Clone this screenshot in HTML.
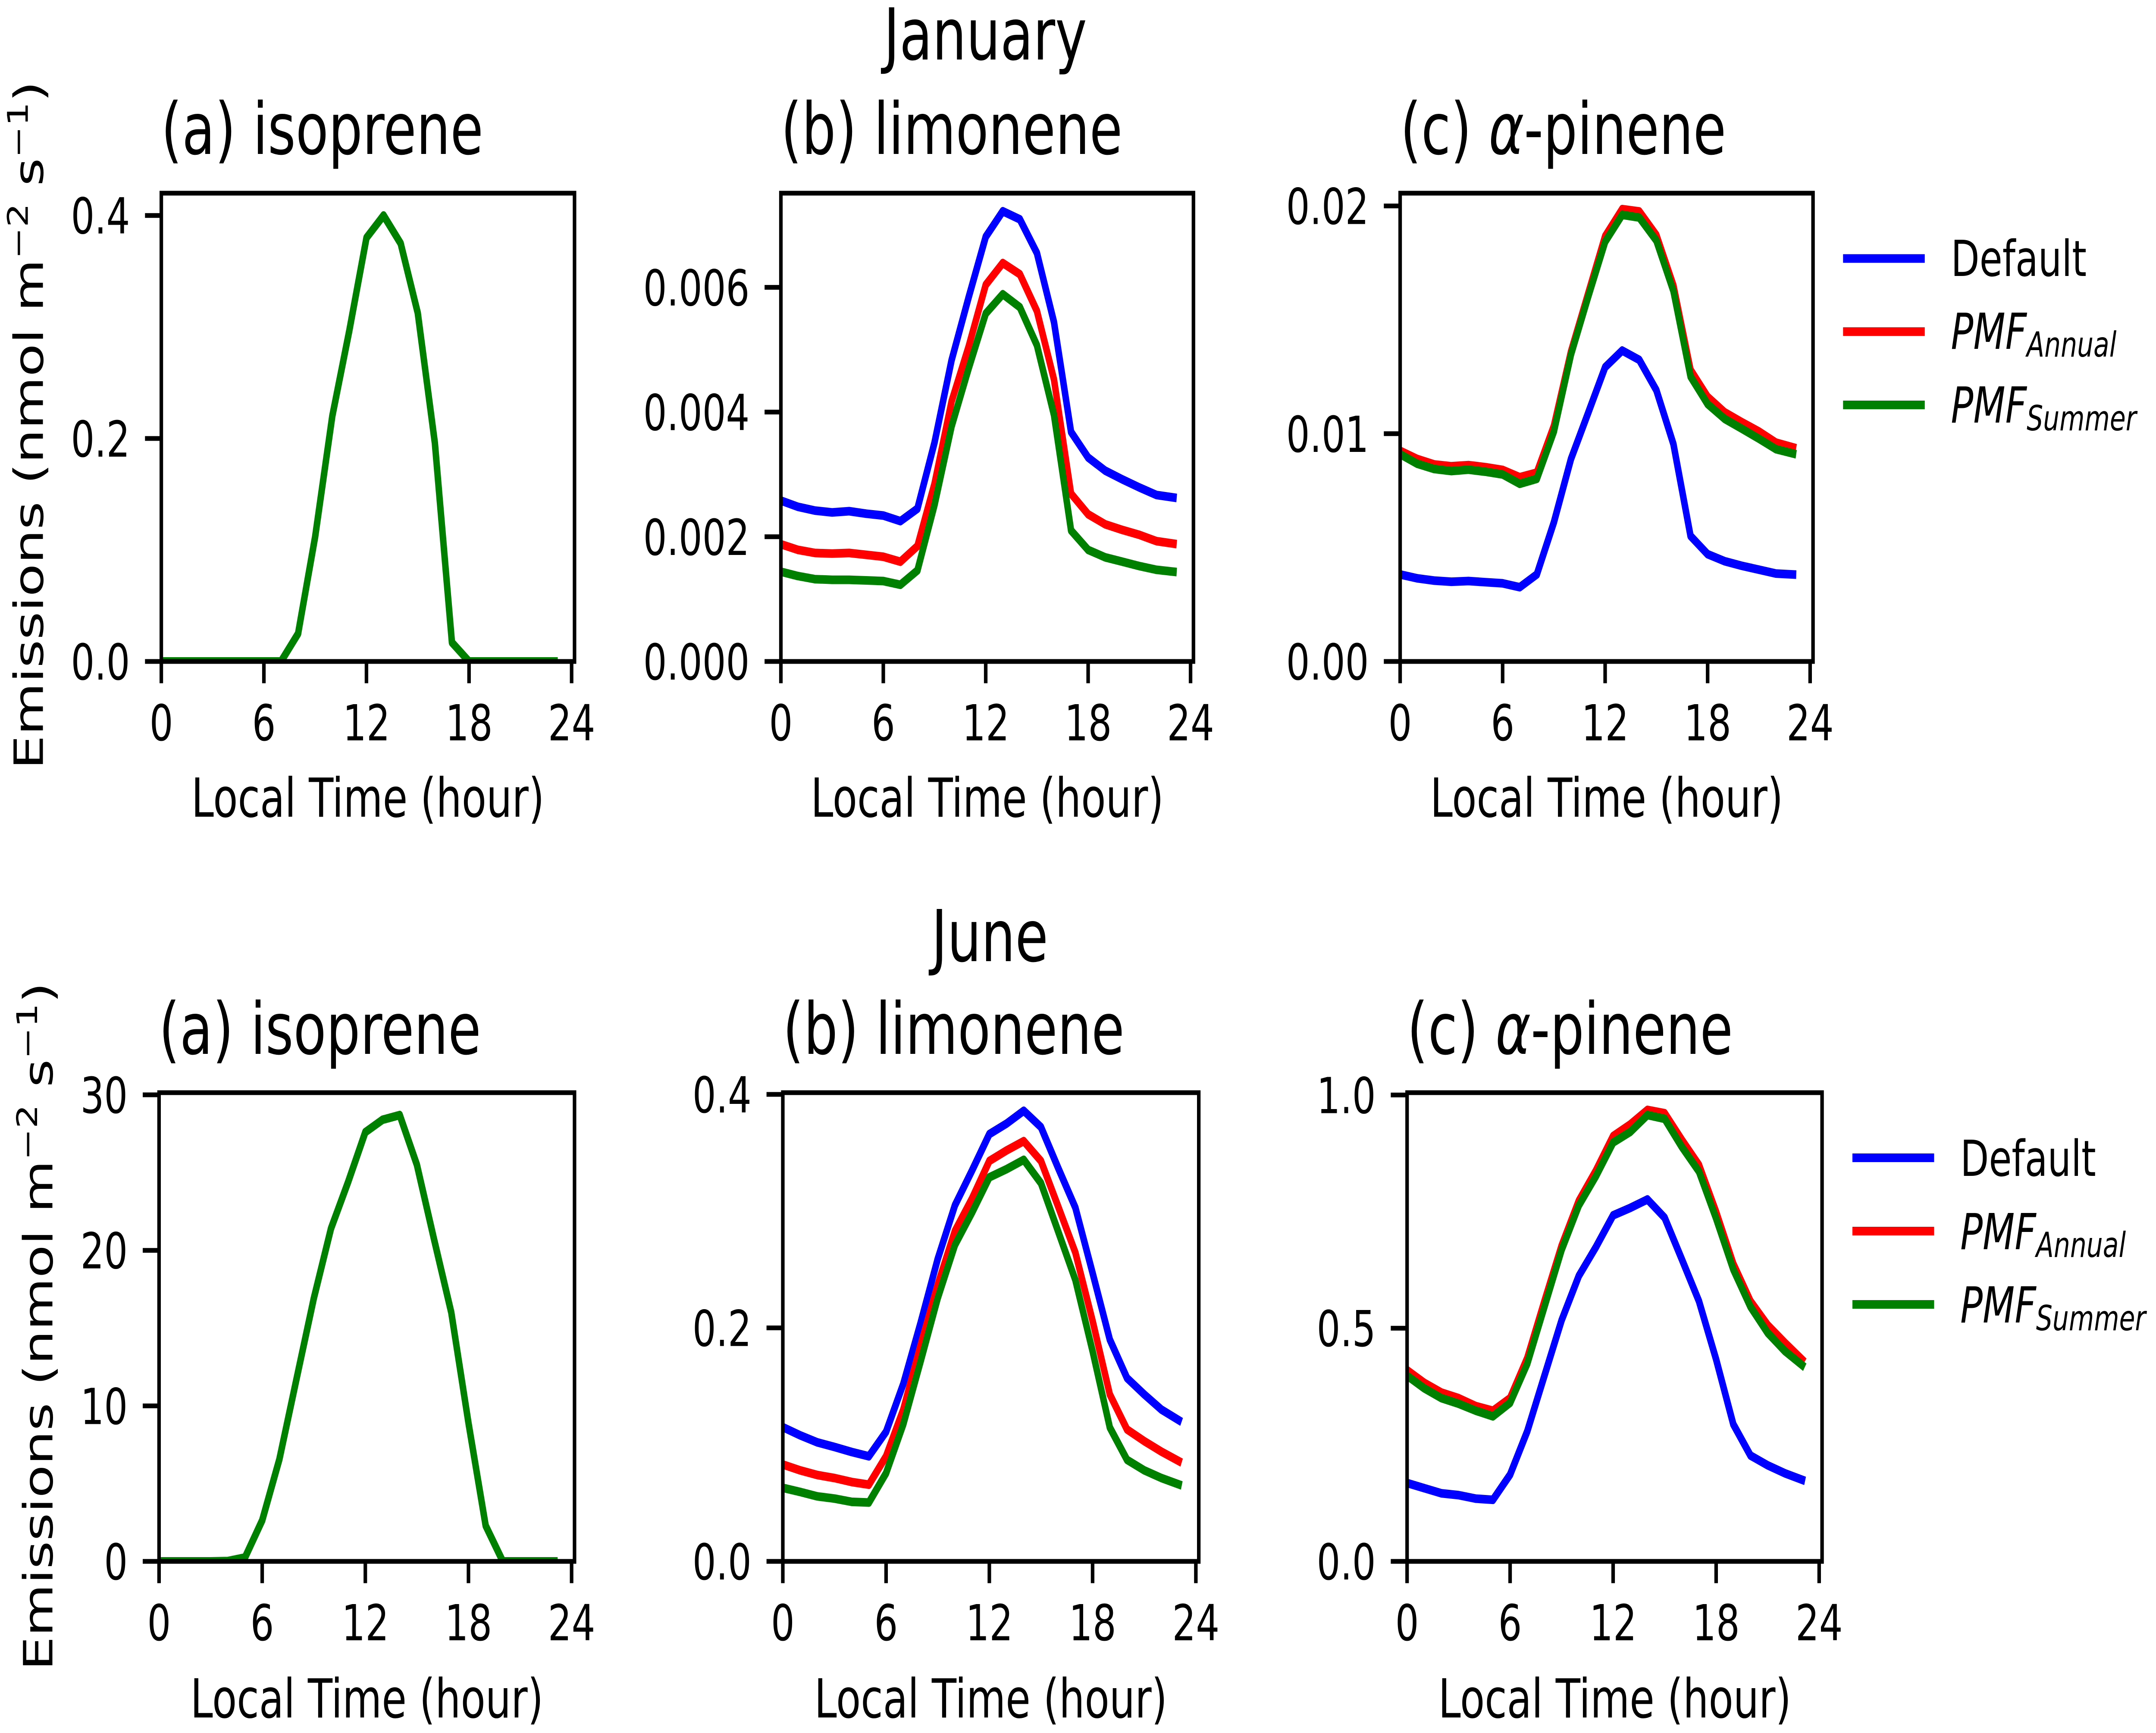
<!DOCTYPE html>
<html lang="en">
<head>
<meta charset="utf-8">
<title>Diurnal emissions: January and June</title>
<style>
html,body{margin:0;padding:0;background:#fff;width:100%;height:100%;overflow:hidden;}
svg{display:block;width:100vw;height:100vh;}
text{font-family:"DejaVu Sans","Liberation Sans",sans-serif;fill:#000;}
.sup{font-size:88px;}
.title{font-size:166px;}
.label{font-size:125px;}
.legend{font-size:115px;}
.sub{font-size:80px;font-style:italic;}
.it{font-style:italic;}
</style>
</head>
<body>
<svg id="chart" xmlns="http://www.w3.org/2000/svg" viewBox="0 0 6676 4019" preserveAspectRatio="none">
<rect x="0" y="0" width="6676" height="4019" fill="#fff"/>

<text class="title" x="3051" y="138" text-anchor="middle">January</text>
<text class="title" x="3065" y="2229" text-anchor="middle">June</text>

<text class="title" x="499" y="357">(a) isoprene</text>
<text class="title" x="2418" y="357">(b) limonene</text>
<text class="title" x="4336" y="357">(c) <tspan class="it">α</tspan>-pinene</text>
<text class="title" x="492" y="2444">(a) isoprene</text>
<text class="title" x="2424" y="2444">(b) limonene</text>
<text class="title" x="4357" y="2444">(c) <tspan class="it">α</tspan>-pinene</text>

<text class="label" text-anchor="middle" transform="translate(133 986) rotate(-90)">Emissions (nmol m<tspan class="sup" dy="-47">−2</tspan><tspan dy="47"> s</tspan><tspan class="sup" dy="-47">−1</tspan><tspan dy="47">)</tspan></text>
<text class="label" text-anchor="middle" transform="translate(162 3076) rotate(-90)">Emissions (nmol m<tspan class="sup" dy="-47">−2</tspan><tspan dy="47"> s</tspan><tspan class="sup" dy="-47">−1</tspan><tspan dy="47">)</tspan></text>

<text class="label" x="1139" y="1894" text-anchor="middle">Local Time (hour)</text>
<text class="label" x="3057" y="1894" text-anchor="middle">Local Time (hour)</text>
<text class="label" x="4975" y="1894" text-anchor="middle">Local Time (hour)</text>
<text class="label" x="1136" y="3983" text-anchor="middle">Local Time (hour)</text>
<text class="label" x="3068" y="3983" text-anchor="middle">Local Time (hour)</text>
<text class="label" x="5000" y="3983" text-anchor="middle">Local Time (hour)</text>

<g id="panels"></g>

<g>
  <line x1="5707" x2="5960" y1="599.5" y2="599.5" stroke="#0000ff" stroke-width="20"/>
  <line x1="5707" x2="5960" y1="769" y2="769" stroke="#ff0000" stroke-width="20"/>
  <line x1="5707" x2="5960" y1="939" y2="939" stroke="#008000" stroke-width="20"/>
  <text class="legend" x="6041" y="640">Default</text>
  <text class="legend" x="6041" y="809"><tspan class="it">PMF</tspan><tspan class="sub" dy="18">Annual</tspan></text>
  <text class="legend" x="6041" y="980"><tspan class="it">PMF</tspan><tspan class="sub" dy="18">Summer</tspan></text>
</g>
<g>
  <line x1="5736" x2="5989" y1="2685" y2="2685" stroke="#0000ff" stroke-width="20"/>
  <line x1="5736" x2="5989" y1="2855" y2="2855" stroke="#ff0000" stroke-width="20"/>
  <line x1="5736" x2="5989" y1="3025" y2="3025" stroke="#008000" stroke-width="20"/>
  <text class="legend" x="6070" y="2727">Default</text>
  <text class="legend" x="6070" y="2897"><tspan class="it">PMF</tspan><tspan class="sub" dy="18">Annual</tspan></text>
  <text class="legend" x="6070" y="3067"><tspan class="it">PMF</tspan><tspan class="sub" dy="18">Summer</tspan></text>
</g>
</svg>

<script>
const hours = [0,1,2,3,4,5,6,7,8,9,10,11,12,13,14,15,16,17,18,19,20,21,22,23];
const xTicks = [0,6,12,18,24];
const xTickLabels = ['0','6','12','18','24'];

const janIsoprene = [0,0,0,0,0,0,0,0,0.025,0.112,0.22,0.297,0.38,0.40,0.375,0.3125,0.196,0.017,0,0,0,0,0,0];
const janIsopreneTicks = [0,0.2,0.4];
const janIsopreneLabels = ['0.0','0.2','0.4'];

const janLimoneneDefault = [0.00258,0.00248,0.00242,0.00239,0.00241,0.00237,0.00234,0.00225,0.00245,0.00351,0.00483,0.00584,0.00681,0.00722,0.00709,0.00655,0.00544,0.00368,0.00327,0.00306,0.00292,0.00279,0.00267,0.00263];
const janLimoneneAnnual = [0.00188,0.00179,0.00174,0.00173,0.00174,0.00171,0.00168,0.0016,0.00185,0.00285,0.00417,0.00505,0.00604,0.00639,0.00621,0.00562,0.00452,0.00269,0.00236,0.0022,0.00211,0.00203,0.00193,0.00189];
const janLimoneneSummer = [0.00144,0.00137,0.00132,0.00131,0.00131,0.0013,0.00129,0.00123,0.00146,0.00251,0.00377,0.0047,0.00558,0.00589,0.00568,0.00507,0.00395,0.0021,0.00179,0.00167,0.0016,0.00153,0.00147,0.00144];
const janLimoneneTicks = [0,0.002,0.004,0.006];
const janLimoneneLabels = ['0.000','0.002','0.004','0.006'];

const janPineneDefault = [0.00382,0.00365,0.00355,0.0035,0.00353,0.00348,0.00343,0.00326,0.00382,0.00611,0.00889,0.0109,0.01292,0.01365,0.01324,0.01191,0.00954,0.00551,0.00471,0.0044,0.0042,0.00403,0.00386,0.00382];
const janPineneAnnual = [0.00925,0.00889,0.00865,0.00857,0.00862,0.00853,0.00841,0.00809,0.00829,0.01034,0.0136,0.01614,0.01867,0.01986,0.01976,0.01872,0.0165,0.0128,0.01162,0.01094,0.01051,0.0101,0.00961,0.0094];
const janPineneSummer = [0.0091,0.00868,0.00845,0.00836,0.00842,0.00833,0.00821,0.0078,0.00802,0.0101,0.01348,0.016,0.01843,0.01961,0.01949,0.01848,0.01626,0.01251,0.0113,0.01065,0.01022,0.00978,0.00932,0.00913];
const janPineneTicks = [0,0.01,0.02];
const janPineneLabels = ['0.00','0.01','0.02'];

const junIsoprene = [0,0,0,0,0.02,0.25,2.64,6.57,11.75,16.9,21.4,24.4,27.6,28.4,28.7,25.5,20.7,16.0,8.9,2.3,0,0,0,0];
const junIsopreneTicks = [0,10,20,30];
const junIsopreneLabels = ['0','10','20','30'];

const junLimoneneDefault = [0.115,0.108,0.102,0.098,0.0937,0.09,0.111,0.152,0.204,0.259,0.305,0.335,0.366,0.375,0.386,0.372,0.337,0.303,0.247,0.19,0.157,0.143,0.13,0.121];
const junLimoneneAnnual = [0.083,0.078,0.074,0.0714,0.068,0.0657,0.09,0.13,0.185,0.237,0.283,0.311,0.343,0.352,0.36,0.343,0.304,0.2645,0.206,0.143,0.113,0.103,0.094,0.086];
const junLimoneneSummer = [0.063,0.0595,0.0557,0.0538,0.051,0.0504,0.0756,0.1175,0.171,0.2255,0.271,0.299,0.329,0.336,0.344,0.324,0.2826,0.241,0.18,0.1147,0.087,0.078,0.0714,0.066];
const junLimoneneTicks = [0,0.2,0.4];
const junLimoneneLabels = ['0.0','0.2','0.4'];

const junPineneDefault = [0.168,0.157,0.146,0.142,0.1345,0.132,0.186,0.279,0.398,0.517,0.612,0.674,0.742,0.758,0.776,0.737,0.648,0.558,0.433,0.294,0.227,0.206,0.189,0.175];
const junPineneAnnual = [0.41,0.383,0.362,0.35,0.333,0.323,0.35,0.436,0.558,0.677,0.773,0.838,0.912,0.937,0.968,0.961,0.904,0.85,0.749,0.638,0.558,0.507,0.469,0.433];
const junPineneSummer = [0.398,0.371,0.35,0.338,0.323,0.311,0.34,0.424,0.546,0.668,0.763,0.826,0.898,0.921,0.957,0.949,0.889,0.836,0.735,0.626,0.546,0.49,0.451,0.421];
const junPineneTicks = [0,0.5,1];
const junPineneLabels = ['0.0','0.5','1.0'];

const seriesColors = {defaultRun:'#0000ff', annual:'#ff0000', summer:'#008000'};
const X_MAX = 24.17;

const panelConfigs = [
  {id:'jan-isoprene', l:499.5, r:1779, t:448, b:1534, ymax:0.42, ticks:janIsopreneTicks, labels:janIsopreneLabels, series:[['summer',janIsoprene]]},
  {id:'jan-limonene', l:2418, r:3695.5, t:448, b:1534, ymax:0.00751, ticks:janLimoneneTicks, labels:janLimoneneLabels, series:[['defaultRun',janLimoneneDefault],['annual',janLimoneneAnnual],['summer',janLimoneneSummer]]},
  {id:'jan-pinene', l:4335.5, r:5614, t:448, b:1534, ymax:0.02056, ticks:janPineneTicks, labels:janPineneLabels, series:[['defaultRun',janPineneDefault],['annual',janPineneAnnual],['summer',janPineneSummer]]},
  {id:'jun-isoprene', l:492.5, r:1779, t:2534, b:3621, ymax:30.14, ticks:junIsopreneTicks, labels:junIsopreneLabels, series:[['summer',junIsoprene]]},
  {id:'jun-limonene', l:2424, r:3712, t:2534, b:3621, ymax:0.4015, ticks:junLimoneneTicks, labels:junLimoneneLabels, series:[['defaultRun',junLimoneneDefault],['annual',junLimoneneAnnual],['summer',junLimoneneSummer]]},
  {id:'jun-pinene', l:4357, r:5642, t:2534, b:3621, ymax:1.005, ticks:junPineneTicks, labels:junPineneLabels, series:[['defaultRun',junPineneDefault],['annual',junPineneAnnual],['summer',junPineneSummer]]}
];

const SVGNS = 'http://www.w3.org/2000/svg';
const SPINE = 11, TICK_OUT = 45, TICK_FONT = 115, LINE_W = 20;

function make(parent, tag, attrs) {
  const el = document.createElementNS(SVGNS, tag);
  for (const k in attrs) el.setAttribute(k, attrs[k]);
  parent.appendChild(el);
  return el;
}

function drawPanel(root, p) {
  const xScale = v => p.l + (v / X_MAX) * (p.r - p.l);
  const yScale = v => p.b - (v / p.ymax) * (p.b - p.t);

  const g = make(root, 'g', {});
  
  

  const clipId = 'clip-' + p.id;
  const clip = make(g, 'clipPath', {id: clipId});
  
  
  const clipRect = make(clip, 'rect', {x: p.l, y: p.t, width: p.r - p.l, height: p.b - p.t});
  
  

  p.series.forEach(function (s) {
    const pts = hours.map((h, i) => xScale(h).toFixed(1) + ',' + yScale(s[1][i]).toFixed(1)).join(' ');
    const line = make(g, 'polyline', {points: pts, fill: 'none', stroke: seriesColors[s[0]], 'stroke-width': LINE_W, 'stroke-linejoin': 'round', 'stroke-linecap': 'square', 'clip-path': 'url(#' + clipId + ')'});
    
    
  });

  const frame = make(g, 'rect', {x: p.l, y: p.t, width: p.r - p.l, height: p.b - p.t, fill: 'none', stroke: '#000', 'stroke-width': SPINE});
  
  

  xTicks.forEach(function (v, i) {
    const x = xScale(v);
    const tick = make(g, 'line', {x1: x, x2: x, y1: p.b, y2: p.b + SPINE / 2 + TICK_OUT, stroke: '#000', 'stroke-width': SPINE});
    
    
    const label = make(g, 'text', {x: x, y: p.b + 183, 'text-anchor': 'middle', 'font-size': TICK_FONT});
    
    
    label.textContent = xTickLabels[i];
  });

  p.ticks.forEach(function (v, i) {
    const y = yScale(v);
    const tick = make(g, 'line', {x1: p.l - SPINE / 2 - TICK_OUT, x2: p.l, y1: y, y2: y, stroke: '#000', 'stroke-width': SPINE});
    
    
    const label = make(g, 'text', {x: p.l - 97, y: y + 42, 'text-anchor': 'end', 'font-size': TICK_FONT});
    
    
    label.textContent = p.labels[i];
  });
}

const panelsRoot = document.getElementById('panels');
panelConfigs.forEach(p => drawPanel(panelsRoot, p));
</script>
</body>
</html>
